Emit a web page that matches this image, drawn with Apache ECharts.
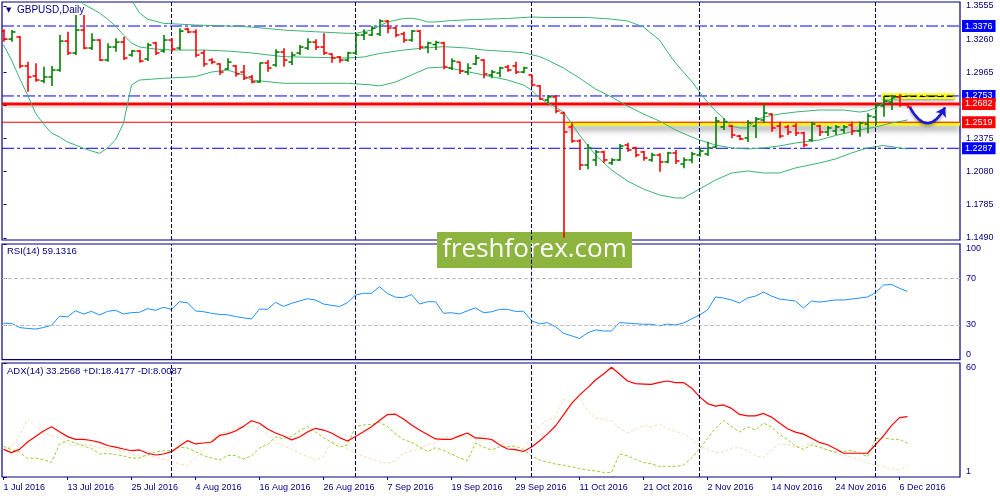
<!DOCTYPE html>
<html><head><meta charset="utf-8">
<script src="https://cdn.jsdelivr.net/npm/echarts@6/dist/echarts.min.js"></script>
<style>html,body{margin:0;padding:0;background:#fff}#c{width:1000px;height:500px}</style>
</head><body><div id="c"></div>
<script>
// ---------- DATA (GBPUSD daily, 1 Jul 2016 - 7 Dec 2016, bar index 0..113) ----------
const xLabels = ['1 Jul 2016','13 Jul 2016','25 Jul 2016','4 Aug 2016','16 Aug 2016','26 Aug 2016','7 Sep 2016','19 Sep 2016','29 Sep 2016','11 Oct 2016','21 Oct 2016','2 Nov 2016','14 Nov 2016','24 Nov 2016','6 Dec 2016'];
const xLabelIdx = [0,8,16,24,32,40,48,56,64,72,80,88,96,104,112];
const monthStartIdx = [21,44,66,87,109];
const priceTicks = [1.1490,1.1785,1.2080,1.2375,1.2670,1.2965,1.3260,1.3555];
const rsiTicks = [0,30,70,100];
const adxTicks = [1,60];

const open = [1.3331,1.3260,1.3278,1.3020,1.2931,1.2887,1.2922,1.2984,1.3242,1.3136,
1.3340,1.3180,1.3251,1.3073,1.3189,1.3233,1.3118,1.3153,1.3082,1.3225,
1.3153,1.3251,1.3180,1.3349,1.3323,1.3136,1.3073,1.3038,1.2993,1.3020,
1.2966,1.2922,1.2878,1.3047,1.3029,1.3144,1.3055,1.3136,1.3180,1.3233,
1.3189,1.3127,1.3100,1.3073,1.3136,1.3296,1.3296,1.3305,1.3420,1.3358,
1.3305,1.3251,1.3331,1.3189,1.3211,1.3225,1.3002,1.3055,1.2966,1.3038,
1.3073,1.2940,1.2957,1.3011,1.3020,1.2966,1.2940,1.2842,1.2717,1.2744,
1.2601,1.2477,1.2352,1.2138,1.2183,1.2254,1.2156,1.2183,1.2316,1.2290,
1.2254,1.2183,1.2227,1.2165,1.2245,1.2147,1.2183,1.2227,1.2236,1.2298,
1.2477,1.2485,1.2396,1.2379,1.2485,1.2539,1.2592,1.2485,1.2477,1.2485,
1.2423,1.2361,1.2485,1.2432,1.2441,1.2450,1.2494,1.2441,1.2503,1.2565,
1.2664,1.2699,1.2744,1.2673];
const high = [1.3347,1.3340,1.3287,1.3058,1.3044,1.3014,1.3020,1.3296,1.3325,1.3474,
1.3474,1.3311,1.3258,1.3222,1.3266,1.3281,1.3162,1.3162,1.3227,1.3236,
1.3296,1.3266,1.3356,1.3361,1.3347,1.3162,1.3088,1.3044,1.3088,1.3029,
1.3029,1.2940,1.3049,1.3073,1.3169,1.3178,1.3147,1.3207,1.3266,1.3258,
1.3311,1.3133,1.3109,1.3147,1.3311,1.3347,1.3376,1.3436,1.3429,1.3370,
1.3325,1.3340,1.3340,1.3236,1.3245,1.3236,1.3088,1.3058,1.3044,1.3118,
1.3080,1.2984,1.3014,1.3029,1.3058,1.3014,1.2940,1.2851,1.2762,1.2762,
1.2613,1.2509,1.2367,1.2325,1.2272,1.2266,1.2198,1.2325,1.2337,1.2301,
1.2266,1.2248,1.2242,1.2257,1.2272,1.2207,1.2257,1.2287,1.2346,1.2568,
1.2554,1.2494,1.2405,1.2539,1.2566,1.2688,1.2598,1.2524,1.2494,1.2509,
1.2435,1.2524,1.2494,1.2485,1.2494,1.2494,1.2524,1.2524,1.2598,1.2688,
1.2747,1.2762,1.2768,1.2673];
const low = [1.3236,1.3236,1.3000,1.2791,1.2880,1.2866,1.2842,1.2969,1.3118,1.3118,
1.3169,1.3162,1.3064,1.3058,1.3147,1.3073,1.3103,1.3049,1.3064,1.3118,
1.3138,1.3147,1.3162,1.3311,1.3097,1.3014,1.3035,1.2940,1.2984,1.2925,
1.2895,1.2866,1.2871,1.2969,1.3014,1.3014,1.3029,1.3118,1.3162,1.3162,
1.3118,1.3049,1.3049,1.3058,1.3118,1.3251,1.3287,1.3287,1.3311,1.3275,
1.3227,1.3236,1.3162,1.3133,1.3162,1.2991,1.2984,1.2949,1.2940,1.3029,
1.2910,1.2910,1.2919,1.2969,1.2949,1.2955,1.2836,1.2717,1.2688,1.2599,
1.1491,1.2337,1.2094,1.2100,1.2129,1.2159,1.2138,1.2177,1.2257,1.2207,
1.2177,1.2168,1.2079,1.2153,1.2147,1.2109,1.2153,1.2212,1.2218,1.2287,
1.2450,1.2376,1.2361,1.2343,1.2379,1.2509,1.2435,1.2376,1.2405,1.2396,
1.2296,1.2346,1.2396,1.2396,1.2405,1.2420,1.2405,1.2390,1.2420,1.2494,
1.2568,1.2628,1.2658,1.2643];
const close = [1.3260,1.3323,1.3020,1.2922,1.2895,1.2922,1.2984,1.3242,1.3136,1.3340,
1.3180,1.3251,1.3073,1.3189,1.3233,1.3091,1.3153,1.3064,1.3207,1.3136,
1.3251,1.3171,1.3331,1.3323,1.3118,1.3038,1.3055,1.2966,1.3055,1.2949,
1.2913,1.2878,1.3047,1.3002,1.3144,1.3073,1.3118,1.3189,1.3233,1.3189,
1.3136,1.3091,1.3073,1.3136,1.3296,1.3314,1.3358,1.3420,1.3358,1.3296,
1.3251,1.3331,1.3189,1.3225,1.3229,1.3011,1.3064,1.2975,1.3002,1.3091,
1.2949,1.2966,1.3002,1.2984,1.2966,1.3002,1.2851,1.2726,1.2744,1.2619,
1.2432,1.2352,1.2138,1.2290,1.2254,1.2183,1.2183,1.2307,1.2272,1.2227,
1.2201,1.2227,1.2165,1.2245,1.2174,1.2183,1.2236,1.2263,1.2290,1.2530,
1.2521,1.2405,1.2370,1.2512,1.2548,1.2601,1.2468,1.2396,1.2432,1.2423,
1.2316,1.2503,1.2432,1.2468,1.2477,1.2477,1.2441,1.2512,1.2574,1.2673,
1.2708,1.2744,1.2673,1.2655];

// Bollinger bands: [bar index, price]
const bbUpper = [[15,1.3714],[16,1.3608],[17,1.3492],[18,1.3438],[20,1.3400],[24,1.3385],[28,1.3376],[31,1.3367],[35,1.3340],[39,1.3325],[43,1.3311],[44,1.3311],[46,1.3340],[47,1.3376],[48,1.3412],[50,1.3443],[51,1.3445],[52,1.3434],[53,1.3412],[54,1.3412],[56,1.3425],[59,1.3434],[63,1.3443],[66,1.3456],[68,1.3452],[70,1.3452],[73,1.3452],[76,1.3438],[78,1.3421],[80,1.3367],[82,1.3251],[83,1.3145],[84,1.3047],[85,1.2966],[86,1.2886],[87,1.2788],[88,1.2699],[89,1.2619],[90,1.2557],[91,1.2485],[92,1.2468],[93,1.2468],[94,1.2530],[95,1.2565],[97,1.2592],[99,1.2610],[102,1.2628],[105,1.2628],[107,1.2610],[108,1.2619],[109,1.2646],[110,1.2690],[111,1.2726],[112,1.2744],[113,1.2753]];
const bbMiddle = [[9,1.3634],[10,1.3572],[12,1.3492],[13,1.3438],[14,1.3376],[15,1.3296],[16,1.3225],[17,1.3189],[19,1.3171],[21,1.3162],[25,1.3162],[28,1.3153],[31,1.3136],[35,1.3103],[39,1.3097],[43,1.3091],[45,1.3100],[47,1.3131],[50,1.3162],[52,1.3176],[55,1.3192],[58,1.3180],[60,1.3162],[63,1.3149],[65,1.3138],[67,1.3104],[68,1.3073],[70,1.3002],[72,1.2913],[74,1.2815],[76,1.2744],[78,1.2663],[80,1.2592],[82,1.2530],[84,1.2450],[86,1.2388],[87,1.2361],[89,1.2316],[91,1.2290],[93,1.2281],[95,1.2290],[97,1.2308],[99,1.2334],[102,1.2361],[104,1.2401],[107,1.2450],[109,1.2476],[111,1.2512],[113,1.2539]];
const bbLower = [[0,1.3207],[1,1.3073],[2,1.2913],[3,1.2762],[4,1.2600],[5,1.2503],[6,1.2423],[7,1.2388],[8,1.2343],[9,1.2316],[10,1.2287],[11,1.2263],[12,1.2242],[13,1.2290],[14,1.2361],[15,1.2512],[16,1.2851],[17,1.2895],[20,1.2910],[24,1.2925],[26,1.2966],[28,1.2984],[30,1.2940],[31,1.2895],[35,1.2866],[43,1.2866],[46,1.2851],[47,1.2842],[49,1.2877],[51,1.2940],[53,1.3002],[55,1.3011],[57,1.2984],[60,1.2940],[63,1.2895],[65,1.2851],[66,1.2806],[67,1.2735],[68,1.2690],[69,1.2655],[70,1.2610],[72,1.2405],[74,1.2227],[76,1.2094],[78,1.1995],[80,1.1924],[82,1.1871],[84,1.1844],[85,1.1844],[87,1.1924],[89,1.2004],[91,1.2067],[93,1.2085],[95,1.2067],[97,1.2067],[99,1.2112],[102,1.2156],[104,1.2192],[106,1.2245],[108,1.2290],[110,1.2312],[112,1.2290],[113,1.2281]];

const rsi = [31.4,31.4,27.8,27.0,26.5,27.8,29.7,37.6,37.1,42.3,
39.5,41.8,38.6,41.8,42.7,39.5,40.7,41.0,44.1,42.7,
45.3,43.5,50.1,49.2,42.1,41.5,40.1,39.1,38.8,37.3,
36.2,35.2,43.8,43.5,49.6,46.1,48.7,50.7,52.7,51.6,
48.1,47.0,45.9,49.3,55.9,57.4,57.4,63.1,57.2,54.0,
53.7,56.3,48.1,50.1,50.1,40.1,40.6,39.5,42.3,44.8,
40.6,41.4,43.5,43.5,41.7,41.9,33.7,31.0,32.0,28.5,
22.8,20.7,18.3,23.1,25.8,24.8,24.8,32.1,31.6,31.1,
30.6,30.6,29.3,30.8,30.0,31.7,35.2,38.6,42.9,54.2,
53.3,51.6,49.0,53.3,55.0,58.5,55.0,52.4,51.6,50.7,
44.7,50.7,49.8,50.7,51.6,51.6,52.4,53.3,54.2,57.9,
64.5,65.1,61.7,59.1];
const adx = [15.3,13.6,15.3,19.1,22.0,24.8,27.0,24.4,21.9,20.5,
20.5,19.9,18.9,17.3,16.5,15.5,14.6,15.0,13.3,12.4,
12.9,14.1,17.0,19.8,18.1,18.6,19.1,22.5,23.3,24.8,
27.2,30.1,28.8,25.8,23.8,22.2,20.2,21.7,24.3,26.2,
25.3,23.8,21.4,19.6,22.0,24.4,27.0,30.2,33.3,33.5,
31.0,27.9,25.3,23.0,20.7,20.5,20.5,22.3,23.8,21.2,
21.0,20.4,17.7,15.5,15.2,14.2,16.5,19.6,23.3,27.4,
33.2,39.0,43.4,47.1,51.2,54.3,57.8,54.3,50.7,49.3,
49.1,48.9,50.0,50.7,49.8,49.9,47.1,42.6,39.0,37.7,
38.3,36.5,33.4,32.6,32.6,33.9,32.0,29.0,26.0,24.2,
23.2,21.1,18.9,17.7,15.6,13.3,13.3,13.3,13.3,17.7,
22.3,27.6,31.7,32.2];
const plusDI = [16.8,15.2,13.9,10.7,10.7,10.1,8.5,18.1,19.9,18.6,
17.0,15.8,12.9,13.2,12.6,11.9,10.8,10.8,12.5,13.9,
14.6,14.6,16.4,16.0,14.2,12.1,10.8,9.8,12.1,12.1,
10.3,11.9,16.0,17.8,21.7,20.9,22.0,24.8,27.1,24.3,
21.4,18.9,16.4,17.6,27.0,27.9,28.2,29.3,27.1,23.3,
20.4,18.9,16.5,14.2,16.1,14.8,12.9,10.8,9.5,18.6,
16.4,15.0,16.6,16.7,17.0,15.2,11.9,9.8,8.8,7.7,
7.2,6.2,5.4,4.6,4.1,3.4,3.3,12.9,11.9,10.1,
8.5,7.8,6.4,6.6,6.4,7.2,10.8,15.6,20.9,26.1,
30.3,27.1,24.3,26.9,25.4,28.9,26.9,23.0,20.4,17.0,
15.3,17.6,16.4,15.0,13.9,14.2,14.7,13.4,11.6,20.8,
21.4,20.5,20.5,18.4];
const minusDI = [15.2,17.0,22.2,31.0,26.9,23.9,22.5,21.2,18.3,17.2,
18.1,17.2,16.0,16.3,15.1,14.4,12.9,11.8,12.3,11.1,
10.2,9.0,7.7,7.0,10.8,15.2,19.9,23.3,24.6,26.1,
27.2,27.4,25.6,23.3,19.1,17.0,15.3,13.4,11.4,9.9,
11.6,19.6,17.7,15.6,13.5,11.7,10.4,9.0,8.0,9.4,
13.3,14.6,15.5,17.7,18.6,22.0,21.4,22.1,21.8,20.2,
22.7,20.9,19.2,16.3,14.2,15.5,22.2,27.7,30.3,32.1,
41.1,39.9,42.4,35.3,31.5,30.9,30.1,26.6,23.8,25.5,
27.7,26.9,28.4,25.9,24.6,23.3,20.8,16.8,15.4,13.6,
13.9,16.0,16.2,14.7,11.9,11.2,15.2,18.2,17.9,16.2,
17.0,18.6,16.5,14.8,13.4,12.2,11.2,10.0,8.0,7.3,
6.4,5.3,4.7,6.5];

// Horizontal levels / annotations
const blueLevels = [1.3376, 1.2753, 1.2287];
const thickRedLevel = 1.2682;
const thinRedLevel = 1.2519;
const bidLevel = 1.2655;
const lowerZone = [[70.3, 1.2519], [119.6, 1.2490]];
const upperZone = [[109.8, 1.2777], [118.9, 1.2726]];
const upperZoneLine = [[110.0, 1.2753], [118.9, 1.2753]];
const arrowPath = [[113.3, 1.2652], [117.7, 1.2652]];
const rsiLevels = [70, 30];

// ---------- CHART ----------
const FONT = 'Liberation Sans';
const NAVY = '#000080';
const XMIN = -0.1875, XMAX = 119.5625;
const chart = echarts.init(document.getElementById('c'), null, {renderer:'canvas'});

const ohlc = open.map((o,i)=>[i, o, high[i], low[i], close[i]]);
const idx = arr => arr.map((v,i)=>[i,v]);

function sepLine(){
  return {silent:true, symbol:['none','none'], label:{show:false},
    lineStyle:{color:NAVY, type:[4,2], width:1, opacity:1}, emphasis:{disabled:true},
    data: monthStartIdx.map(v=>({xAxis:v}))};
}
function boxLabel(bg, text){
  return {show:true, distance:2, formatter:text, color:'#ffffff',
    backgroundColor:bg, padding:[1,3,1,3], fontSize:9, fontFamily:FONT, lineHeight:10};
}
// a horizontal level drawn as a real 2-point series across the whole x range
function levelLine(name, v, style, z, labelBg){
  const s = {type:'line', name:name, xAxisIndex:0, yAxisIndex:0, z:z, silent:true,
    data:[[XMIN, v],[XMAX, v]], showSymbol:false, symbol:'none',
    lineStyle:Object.assign({opacity:1}, style), emphasis:{disabled:true}};
  if (labelBg) s.endLabel = boxLabel(labelBg, v.toFixed(4));
  return s;
}
function yAxisCfg(g, min, max, ticks, fmt, rich){
  return {type:'value', gridIndex:g, position:'right', min:min, max:max,
    splitLine:{show:false}, axisLine:{show:false},
    axisTick:{show:true, customValues:ticks, length:3, lineStyle:{color:NAVY}},
    axisLabel:{customValues:ticks, margin:6, color:NAVY, fontSize:9, fontFamily:FONT, formatter:fmt, rich:rich||{}}};
}
const richTB = {
  t:{padding:[10,0,0,0], color:NAVY, fontSize:9, fontFamily:FONT},
  b:{padding:[0,0,10,0], color:NAVY, fontSize:9, fontFamily:FONT}
};
const gridBase = {left:2, width:958, show:true, borderColor:NAVY, borderWidth:1.2, backgroundColor:'rgba(0,0,0,0)', containLabel:false, outerBoundsMode:'none'};

const option = {
  animation:false,
  backgroundColor:'#ffffff',
  title:[
    {text:'{tri|▼}  GBPUSD,Daily', left:6, top:5, padding:0,
     textStyle:{fontSize:10, color:NAVY, fontFamily:FONT, fontWeight:'normal',
       rich:{tri:{fontSize:7, color:NAVY, fontFamily:'DejaVu Sans'}}}},
    {text:'RSI(14) 59.1316', left:7, top:246, padding:0,
     textStyle:{fontSize:9.5, color:NAVY, fontFamily:FONT, fontWeight:'normal'}},
    {text:'ADX(14) 33.2568 +DI:18.4177 -DI:8.0087', left:7, top:366, padding:0,
     textStyle:{fontSize:9.5, color:NAVY, fontFamily:FONT, fontWeight:'normal'}}
  ],
  grid:[
    Object.assign({}, gridBase, {top:2, height:238}),
    Object.assign({}, gridBase, {top:244, height:115.7}),
    Object.assign({}, gridBase, {top:363, height:114})
  ],
  xAxis:[
    {type:'value', gridIndex:0, min:XMIN, max:XMAX, show:false},
    {type:'value', gridIndex:1, min:XMIN, max:XMAX, show:false},
    {type:'value', gridIndex:2, min:XMIN, max:XMAX, position:'bottom',
     axisLine:{show:false}, splitLine:{show:false},
     axisTick:{show:true, customValues:xLabelIdx, length:3, lineStyle:{color:NAVY}},
     axisLabel:{customValues:xLabelIdx, align:'left', margin:6, color:NAVY, fontSize:9, fontFamily:FONT,
       formatter:function(v){ const k = xLabelIdx.indexOf(Math.round(v)); return k>=0 ? xLabels[k] : ''; }}}
  ],
  yAxis:[
    yAxisCfg(0, 1.1470, 1.3590, priceTicks, v=>v.toFixed(4)),
    yAxisCfg(1, 0, 100, rsiTicks, v=> v===100 ? '{t|100}' : (v===0 ? '{b|0}' : String(v)), richTB),
    yAxisCfg(2, 1, 60, adxTicks, v=> v===60 ? '{t|60}' : (v===1 ? '{b|1}' : String(v)), richTB)
  ],
  graphic:[
    {type:'group', left:437, top:232, z:100, children:[
      {type:'rect', shape:{x:0,y:0,width:195,height:36}, style:{fill:'#8db43e'}},
      {type:'text', x:97.5, y:18, style:{text:'freshforex.com', fill:'#ffffff',
        font:'26px "Open Sans"', align:'center', verticalAlign:'middle'}}
    ]}
  ],
  series:[
    levelLine('bid', bidLevel, {color:'#c8c8c8', type:'solid', width:1}, 1, null),
    levelLine('blue1', blueLevels[0], {color:'#0000ff', type:[12,3,3,3], width:1}, 1, '#0000ff'),
    levelLine('blue2', blueLevels[1], {color:'#0000ff', type:[12,3,3,3], width:1}, 1, '#0000ff'),
    levelLine('blue3', blueLevels[2], {color:'#0000ff', type:[12,3,3,3], width:1}, 1, '#0000ff'),
    {type:'line', name:'seps0', xAxisIndex:0, yAxisIndex:0, data:[], z:1, silent:true, markLine:sepLine()},
    // yellow zones
    {type:'line', name:'zones', xAxisIndex:0, yAxisIndex:0, data:[], z:2, silent:true,
     markArea:{silent:true, emphasis:{disabled:true}, data:[
       [{xAxis:lowerZone[0][0], yAxis:lowerZone[0][1], itemStyle:{color:'#ffff00', opacity:1, shadowColor:'rgba(0,0,0,0.55)', shadowBlur:6, shadowOffsetY:4}},
        {xAxis:lowerZone[1][0], yAxis:lowerZone[1][1]}],
       [{xAxis:upperZone[0][0], yAxis:upperZone[0][1], itemStyle:{color:'#ffff00', opacity:1, shadowColor:'rgba(0,0,0,0.35)', shadowBlur:3, shadowOffsetY:2}},
        {xAxis:upperZone[1][0], yAxis:upperZone[1][1]}]
     ]}},
    // red levels
    levelLine('redThin', thinRedLevel, {color:'#ff0000', type:'solid', width:1}, 3, '#ff0000'),
    levelLine('redThick', thickRedLevel, {color:'#ff0000', type:'solid', width:3}, 3, '#ff0000'),
    // black dashed segment inside the upper zone
    {type:'line', name:'zoneLine', xAxisIndex:0, yAxisIndex:0, data:[], z:3, silent:true,
     markLine:{silent:true, symbol:['none','none'], emphasis:{disabled:true}, label:{show:false},
       lineStyle:{color:'#000000', type:[6,3], width:1, opacity:1},
       data:[[{coord:upperZoneLine[0]}, {coord:upperZoneLine[1]}]]}},
    // Bollinger bands
    {type:'line', name:'BBup', xAxisIndex:0, yAxisIndex:0, data:bbUpper, showSymbol:false, z:4, silent:true,
     lineStyle:{color:'#3cb371', width:1}},
    {type:'line', name:'BBmid', xAxisIndex:0, yAxisIndex:0, data:bbMiddle, showSymbol:false, z:4, silent:true,
     lineStyle:{color:'#3cb371', width:1}},
    {type:'line', name:'BBlow', xAxisIndex:0, yAxisIndex:0, data:bbLower, showSymbol:false, z:4, silent:true,
     lineStyle:{color:'#3cb371', width:1}},
    // OHLC bars
    {type:'custom', name:'GBPUSD', xAxisIndex:0, yAxisIndex:0, z:5, clip:true, silent:true,
     data:ohlc, encode:{x:0, y:[1,2,3,4]},
     renderItem:function(params, api){
       const i=api.value(0), o=api.value(1), h=api.value(2), l=api.value(3), c=api.value(4);
       const ph=api.coord([i,h]), pl=api.coord([i,l]), po=api.coord([i,o]), pc=api.coord([i,c]);
       const x=Math.round(ph[0]);
       const col = c>=o ? '#008000' : '#ff0000';
       const st={stroke:col, lineWidth:1.6};
       return {type:'group', children:[
         {type:'line', shape:{x1:x,y1:ph[1],x2:x,y2:pl[1]}, style:st},
         {type:'line', shape:{x1:x-3.5,y1:po[1],x2:x,y2:po[1]}, style:st},
         {type:'line', shape:{x1:x,y1:pc[1],x2:x+3.5,y2:pc[1]}, style:st}
       ]};
     }},
    // blue arrow annotation
    {type:'lines', coordinateSystem:'cartesian2d', xAxisIndex:0, yAxisIndex:0, z:6, silent:true,
     symbol:['none','arrow'], symbolSize:9,
     lineStyle:{color:'#1a1ad0', width:2.5, curveness:-0.9, opacity:1, shadowColor:'rgba(0,0,0,0.35)', shadowBlur:3, shadowOffsetY:2},
     data:[{coords:arrowPath}]},
    // RSI
    {type:'line', name:'RSI', xAxisIndex:1, yAxisIndex:1, data:idx(rsi), showSymbol:false, z:4, silent:true,
     lineStyle:{color:'#1e90ff', width:1},
     markLine:{silent:true, symbol:['none','none'], emphasis:{disabled:true}, label:{show:false},
       lineStyle:{color:'#c0c0c0', type:[4,2], width:1, opacity:1},
       data:rsiLevels.map(v=>({yAxis:v}))}},
    {type:'line', name:'seps1', xAxisIndex:1, yAxisIndex:1, data:[], z:1, silent:true, markLine:sepLine()},
    // ADX
    {type:'line', name:'-DI', xAxisIndex:2, yAxisIndex:2, data:idx(minusDI), showSymbol:false, z:3, silent:true,
     lineStyle:{color:'#f5deb3', width:1, type:[3,2]}},
    {type:'line', name:'+DI', xAxisIndex:2, yAxisIndex:2, data:idx(plusDI), showSymbol:false, z:3, silent:true,
     lineStyle:{color:'#9acd32', width:1, type:[3,2]}},
    {type:'line', name:'ADX', xAxisIndex:2, yAxisIndex:2, data:idx(adx), showSymbol:false, z:4, silent:true,
     lineStyle:{color:'#ff0000', width:1.2}},
    {type:'line', name:'seps2', xAxisIndex:2, yAxisIndex:2, data:[], z:1, silent:true, markLine:sepLine()}
  ]
};
chart.setOption(option);
</script>
</body></html>
